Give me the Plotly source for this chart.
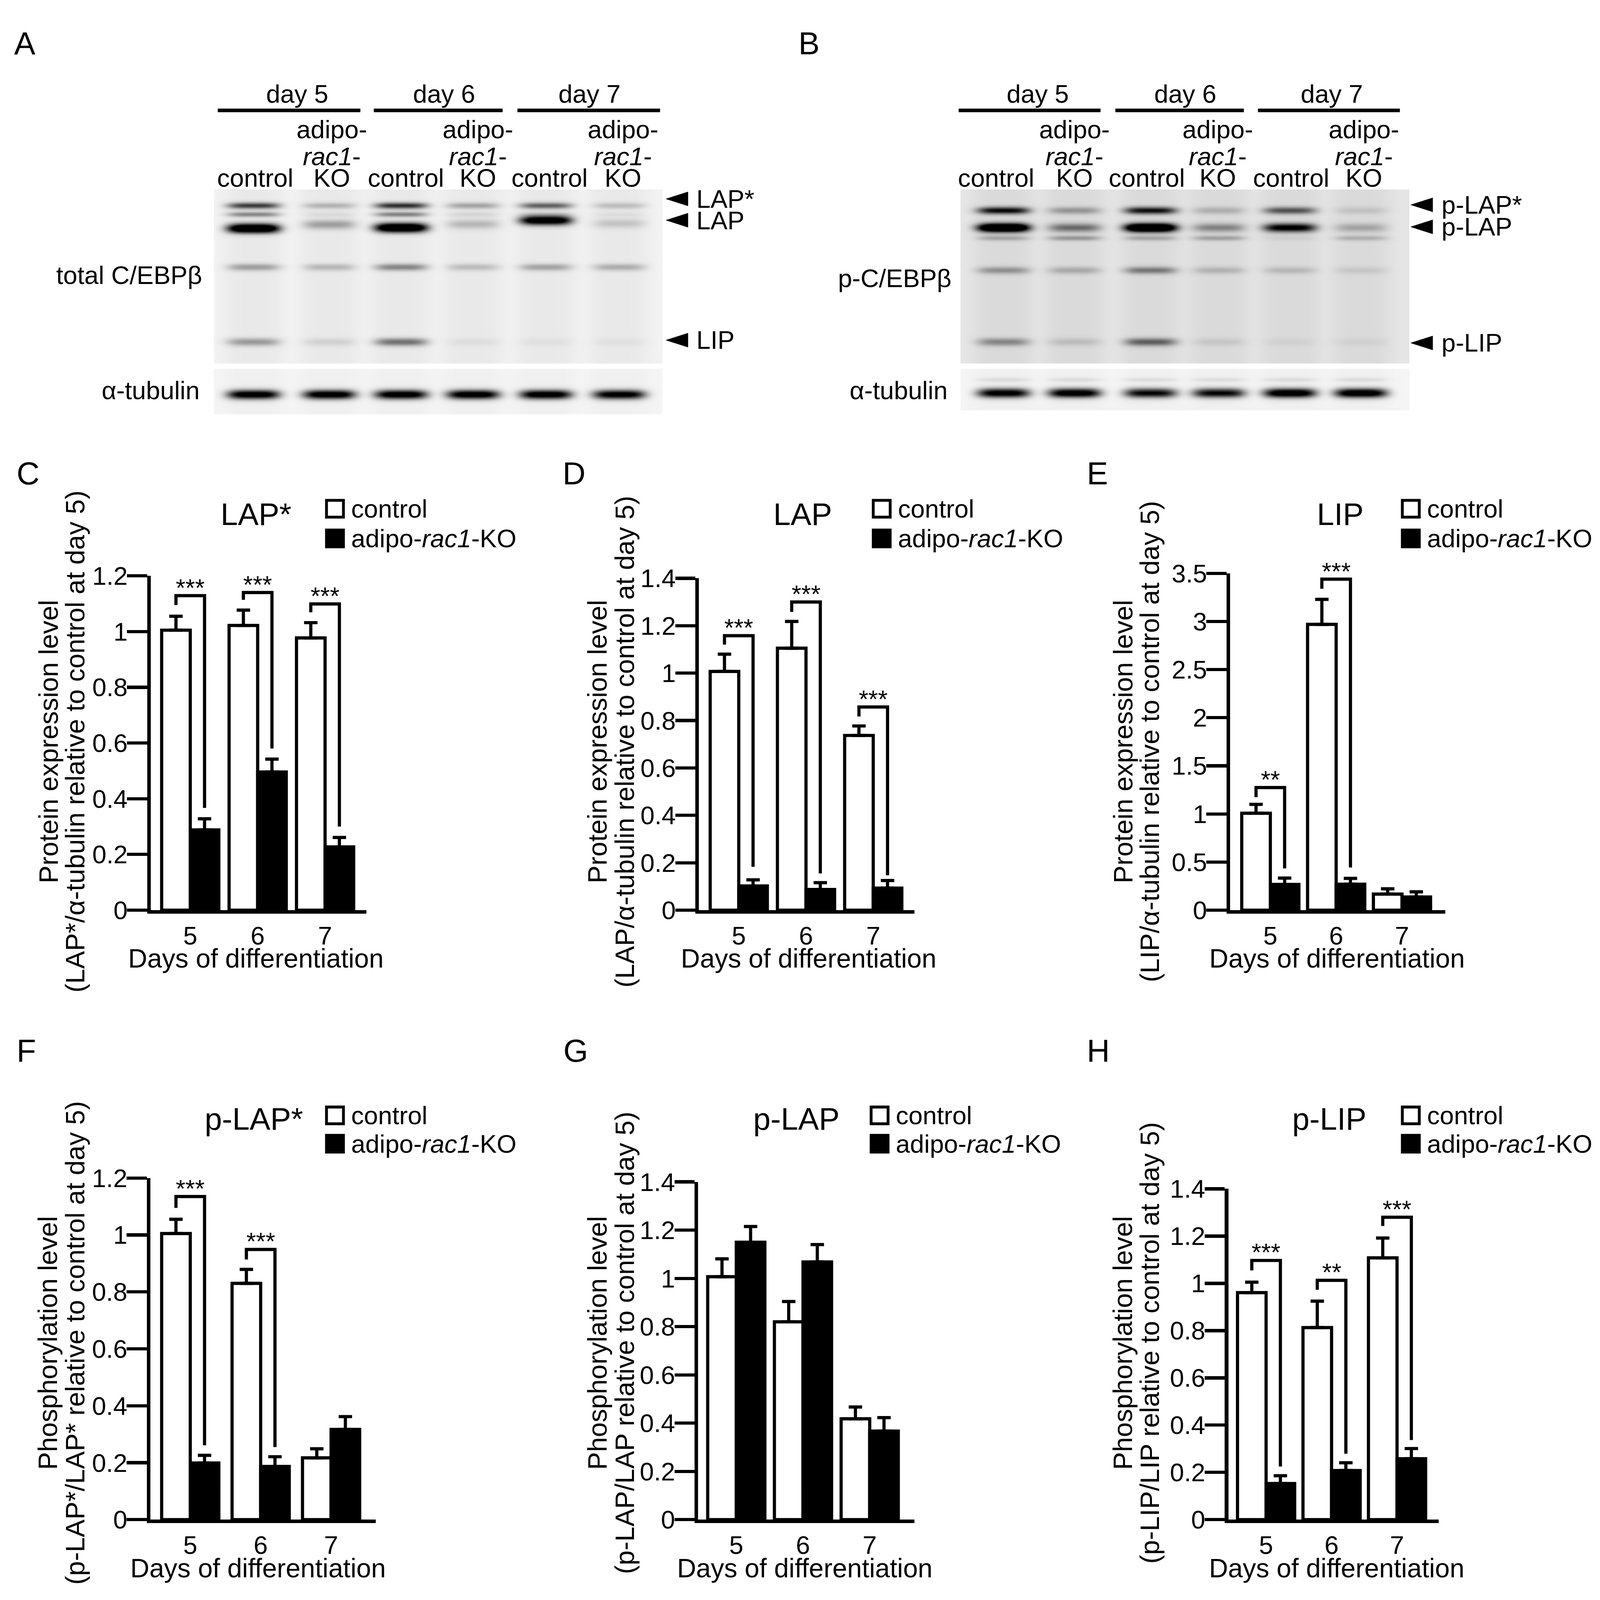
import numpy as np
import plotly.graph_objects as go

W, H = 4533, 4494
FONT = "Liberation Sans, Arial, Helvetica, sans-serif"

# ======================= DATA =======================
days = [5, 6, 7]
day_labels = ["5", "6", "7"]
legend_labels = ["control", "adipo-<i>rac1</i>-KO"]
x_title = "Days of differentiation"

# --- C: LAP* ---
c_title = "LAP*"
c_ytitle = ["Protein expression level", "(LAP*/α-tubulin relative to control at day 5)"]
c_ticks = [0, 0.2, 0.4, 0.6, 0.8, 1.0, 1.2]
c_ticktext = ["0", "0.2", "0.4", "0.6", "0.8", "1", "1.2"]
c_ctrl = [1.005, 1.022, 0.977]
c_ctrl_err = [0.050, 0.055, 0.055]
c_ko = [0.288, 0.496, 0.227]
c_ko_err = [0.040, 0.046, 0.034]
c_sig = ["***", "***", "***"]
c_br_top = [1.129, 1.140, 1.099]
c_br_left = [1.095, 1.114, 1.069]
c_br_right = [0.367, 0.580, 0.300]

# --- D: LAP ---
d_title = "LAP"
d_ytitle = ["Protein expression level", "(LAP/α-tubulin relative to control at day 5)"]
d_ticks = [0, 0.2, 0.4, 0.6, 0.8, 1.0, 1.2, 1.4]
d_ticktext = ["0", "0.2", "0.4", "0.6", "0.8", "1", "1.2", "1.4"]
d_ctrl = [1.007, 1.105, 0.737]
d_ctrl_err = [0.073, 0.113, 0.040]
d_ko = [0.102, 0.087, 0.093]
d_ko_err = [0.026, 0.029, 0.032]
d_sig = ["***", "***", "***"]
d_br_top = [1.158, 1.300, 0.857]
d_br_left = [1.120, 1.258, 0.817]
d_br_right = [0.183, 0.155, 0.147]

# --- E: LIP ---
e_title = "LIP"
e_ytitle = ["Protein expression level", "(LIP/α-tubulin relative to control at day 5)"]
e_ticks = [0, 0.5, 1.0, 1.5, 2.0, 2.5, 3.0, 3.5]
e_ticktext = ["0", "0.5", "1", "1.5", "2", "2.5", "3", "3.5"]
e_ctrl = [1.007, 2.970, 0.167]
e_ctrl_err = [0.093, 0.260, 0.055]
e_ko = [0.267, 0.270, 0.137]
e_ko_err = [0.066, 0.060, 0.053]
e_sig = ["**", "***", None]
e_br_top = [1.274, 3.440, None]
e_br_left = [1.174, 3.340, None]
e_br_right = [0.433, 0.444, None]

# --- F: p-LAP* ---
f_title = "p-LAP*"
f_ytitle = ["Phosphorylation level", "(p-LAP*/LAP* relative to control at day 5)"]
f_ticks = [0, 0.2, 0.4, 0.6, 0.8, 1.0, 1.2]
f_ticktext = ["0", "0.2", "0.4", "0.6", "0.8", "1", "1.2"]
f_ctrl = [1.005, 0.830, 0.217]
f_ctrl_err = [0.050, 0.049, 0.032]
f_ko = [0.199, 0.187, 0.317]
f_ko_err = [0.027, 0.034, 0.045]
f_sig = ["***", "***", None]
f_br_top = [1.135, 0.949, None]
f_br_left = [1.095, 0.914, None]
f_br_right = [0.261, 0.255, None]

# --- G: p-LAP ---
g_title = "p-LAP"
g_ytitle = ["Phosphorylation level", "(p-LAP/LAP relative to control at day 5)"]
g_ticks = [0, 0.2, 0.4, 0.6, 0.8, 1.0, 1.2, 1.4]
g_ticktext = ["0", "0.2", "0.4", "0.6", "0.8", "1", "1.2", "1.4"]
g_ctrl = [1.007, 0.820, 0.418]
g_ctrl_err = [0.074, 0.084, 0.049]
g_ko = [1.150, 1.068, 0.367]
g_ko_err = [0.065, 0.072, 0.056]
g_sig = [None, None, None]
g_br_top = [None, None, None]
g_br_left = [None, None, None]
g_br_right = [None, None, None]

# --- H: p-LIP ---
h_title = "p-LIP"
h_ytitle = ["Phosphorylation level", "(p-LIP/LIP relative to control at day 5)"]
h_ticks = [0, 0.2, 0.4, 0.6, 0.8, 1.0, 1.2, 1.4]
h_ticktext = ["0", "0.2", "0.4", "0.6", "0.8", "1", "1.2", "1.4"]
h_ctrl = [0.961, 0.813, 1.108]
h_ctrl_err = [0.044, 0.112, 0.084]
h_ko = [0.153, 0.208, 0.258]
h_ko_err = [0.033, 0.033, 0.043]
h_sig = ["***", "**", "***"]
h_br_top = [1.097, 1.013, 1.280]
h_br_left = [1.055, 0.973, 1.243]
h_br_right = [0.225, 0.279, 0.337]

# --- Western blots (relative band darkness per lane) ---
blot_days = ["day 5", "day 6", "day 7"]
lane_groups = ["control", "KO"]
a_label = "total C/EBPβ"
b_label = "p-C/EBPβ"
tub_label = "α-tubulin"
a_markers = ["LAP*", "LAP", "LIP"]
b_markers = ["p-LAP*", "p-LAP", "p-LIP"]
a_int = [
    [0.70, 0.22, 0.75, 0.28, 0.55, 0.18],   # LAP*
    [0.40, 0.06, 0.42, 0.08, 0.10, 0.05],   # faint band under LAP*
    [1.40, 0.30, 1.40, 0.20, 1.20, 0.15],   # LAP
    [0.30, 0.20, 0.40, 0.18, 0.28, 0.24],   # middle band
    [0.32, 0.10, 0.48, 0.05, 0.04, 0.04],   # LIP
]
a_tub = [1.10, 1.10, 1.10, 1.10, 1.10, 1.05]
b_int = [
    [0.85, 0.28, 0.82, 0.18, 0.55, 0.10],   # p-LAP*
    [1.50, 0.45, 1.50, 0.35, 0.95, 0.22],   # p-LAP
    [0.22, 0.28, 0.22, 0.24, 0.05, 0.18],   # minor band
    [0.30, 0.20, 0.40, 0.16, 0.14, 0.08],   # middle band
    [0.34, 0.12, 0.50, 0.08, 0.04, 0.04],   # p-LIP
]
b_tub = [1.05, 1.10, 0.95, 0.95, 1.15, 1.15]

# ======================= HELPERS =======================
def px(x):
    return x / W


def py(y):
    return 1 - y / H


fig = go.Figure()
annotations = []
shapes = []
layout_axes = {}


def txt(x, y, text, size=72, xanchor="center", yanchor="middle", angle=0):
    annotations.append(dict(x=px(x), y=py(y), xref="paper", yref="paper", text=text,
                            showarrow=False, xanchor=xanchor, yanchor=yanchor,
                            textangle=angle,
                            font=dict(size=size, family=FONT, color="black")))


# ======================= BAR PANELS =======================
panels = [
    dict(letter="C", title=c_title, yt=c_ytitle, ticks=c_ticks, tt=c_ticktext, ymax=1.2,
         ctrl=c_ctrl, ce=c_ctrl_err, ko=c_ko, ke=c_ko_err, sig=c_sig, bt=c_br_top, bl=c_br_left, br=c_br_right,
         g=dict(left=427, right=1038, top=1606, bottom=2562, c0=539, sp=191, lx=79, ly=1312,
                tx=725, ty=1430, legx=921, legy=(1414, 1499), ytx=(138, 213), yty=2080, xtx=725)),
    dict(letter="D", title=d_title, yt=d_ytitle, ticks=d_ticks, tt=d_ticktext, ymax=1.4,
         ctrl=d_ctrl, ce=d_ctrl_err, ko=d_ko, ke=d_ko_err, sig=d_sig, bt=d_br_top, bl=d_br_left, br=d_br_right,
         g=dict(left=1980, right=2591, top=1613, bottom=2562, c0=2093, sp=190.5, lx=1627, ly=1312,
                tx=2274, ty=1430, legx=2470, legy=(1414, 1499), ytx=(1693, 1770), yty=2080, xtx=2291)),
    dict(letter="E", title=e_title, yt=e_ytitle, ticks=e_ticks, tt=e_ticktext, ymax=3.5,
         ctrl=e_ctrl, ce=e_ctrl_err, ko=e_ko, ke=e_ko_err, sig=e_sig, bt=e_br_top, bl=e_br_left, br=e_br_right,
         g=dict(left=3485, right=4095, top=1599, bottom=2562, c0=3599, sp=186.5, lx=3109, ly=1312,
                tx=3797, ty=1430, legx=3969, legy=(1414, 1499), ytx=(3182, 3258), yty=2080, xtx=3788)),
    dict(letter="F", title=f_title, yt=f_ytitle, ticks=f_ticks, tt=f_ticktext, ymax=1.2,
         ctrl=f_ctrl, ce=f_ctrl_err, ko=f_ko, ke=f_ko_err, sig=f_sig, bt=f_br_top, bl=f_br_left, br=f_br_right,
         g=dict(left=426, right=1065, top=3328, bottom=4305, c0=539, sp=199.5, lx=74, ly=2964,
                tx=719, ty=3159, legx=921, legy=(3149, 3230), ytx=(136, 213), yty=3800, xtx=731)),
    dict(letter="G", title=g_title, yt=g_ytitle, ticks=g_ticks, tt=g_ticktext, ymax=1.4,
         ctrl=g_ctrl, ce=g_ctrl_err, ko=g_ko, ke=g_ko_err, sig=g_sig, bt=g_br_top, bl=g_br_left, br=g_br_right,
         g=dict(left=1978, right=2591, top=3339, bottom=4305, c0=2086, sp=189, lx=1631, ly=2964,
                tx=2256, ty=3159, legx=2464, legy=(3149, 3230), ytx=(1693, 1770), yty=3800, xtx=2280)),
    dict(letter="H", title=h_title, yt=h_ytitle, ticks=h_ticks, tt=h_ticktext, ymax=1.4,
         ctrl=h_ctrl, ce=h_ctrl_err, ko=h_ko, ke=h_ko_err, sig=h_sig, bt=h_br_top, bl=h_br_left, br=h_br_right,
         g=dict(left=3480, right=4076, top=3359, bottom=4305, c0=3587, sp=185.5, lx=3111, ly=2964,
                tx=3766, ty=3159, legx=3969, legy=(3149, 3230), ytx=(3182, 3258), yty=3800, xtx=3787)),
]

LW = 9
for i, p in enumerate(panels, start=1):
    g = p["g"]
    suf = "" if i == 1 else str(i)
    xa, ya = "x" + suf, "y" + suf
    w = 81.0 / g["sp"]
    x0 = days[0] - (g["c0"] - g["left"]) / g["sp"]
    x1 = days[0] + (g["right"] - g["c0"]) / g["sp"]

    fig.add_trace(go.Bar(x=days, y=p["ctrl"], width=w, offset=-w,
                         marker=dict(color="white", line=dict(color="black", width=LW)),
                         error_y=dict(type="data", array=p["ce"], arrayminus=[0, 0, 0], symmetric=False,
                                      color="black", thickness=LW, width=19),
                         xaxis=xa, yaxis=ya, showlegend=False, hoverinfo="skip"))
    fig.add_trace(go.Bar(x=days, y=p["ko"], width=w, offset=0,
                         marker=dict(color="black", line=dict(color="black", width=LW)),
                         error_y=dict(type="data", array=p["ke"], arrayminus=[0, 0, 0], symmetric=False,
                                      color="black", thickness=LW, width=19),
                         xaxis=xa, yaxis=ya, showlegend=False, hoverinfo="skip"))

    for d, s, t, l, r in zip(days, p["sig"], p["bt"], p["bl"], p["br"]):
        if s is None:
            continue
        xl, xr = d - w / 2, d + w / 2
        fig.add_trace(go.Scatter(x=[xl, xl, xr, xr], y=[l, t, t, r], mode="lines",
                                 line=dict(color="black", width=LW), xaxis=xa, yaxis=ya,
                                 showlegend=False, hoverinfo="skip", cliponaxis=False))
        annotations.append(dict(x=d, y=t, xref=xa, yref=ya, text=s, showarrow=False,
                                xanchor="center", yanchor="bottom", yshift=-18,
                                font=dict(size=70, family=FONT, color="black")))

    layout_axes["xaxis" + suf] = dict(
        domain=[px(g["left"]), px(g["right"])], range=[x0, x1], anchor=ya,
        tickvals=days, ticktext=day_labels, ticks="",
        showline=True, linewidth=10, linecolor="black",
        showgrid=False, zeroline=False, fixedrange=True,
        tickfont=dict(size=72, family=FONT, color="black"))
    layout_axes["yaxis" + suf] = dict(
        domain=[py(g["bottom"]), py(g["top"])], range=[0, p["ymax"]], anchor=xa,
        tickvals=p["ticks"], ticktext=p["tt"], ticks="outside", ticklen=57, tickwidth=LW,
        tickcolor="black", showline=True, linewidth=10, linecolor="black",
        showgrid=False, zeroline=False, fixedrange=True, ticklabelstandoff=-16,
        tickfont=dict(size=72, family=FONT, color="black"))

    txt(g["lx"], g["ly"], p["letter"], size=90)
    txt(g["tx"], g["ty"], p["title"], size=88)
    for k, (lab, fill) in enumerate(zip(legend_labels, ["white", "black"])):
        yc = g["legy"][k]
        shapes.append(dict(type="rect", xref="paper", yref="paper",
                           x0=px(g["legx"] + 4), x1=px(g["legx"] + 52),
                           y0=py(yc + 24), y1=py(yc - 24),
                           line=dict(color="black", width=8), fillcolor=fill))
        txt(g["legx"] + 72, yc, lab, size=72, xanchor="left")
    txt(g["ytx"][0], g["yty"], p["yt"][0], size=75, angle=-90)
    txt(g["ytx"][1], g["yty"], p["yt"][1], size=75, angle=-90)
    txt(g["xtx"], g["bottom"] + 138, x_title, size=75)

# ======================= BLOTS =======================
def blot_z(xs, ys, lanes, rows_y, rows_sig, rows_int, base, lane_bg, halfw=74):
    X, Y = np.meshgrid(xs, ys)
    z = np.full(X.shape, base, dtype=float)
    for lx in lanes:
        z += lane_bg * np.exp(-((X - lx) / (halfw + 12)) ** 4)
    for ry, rs, ri in zip(rows_y, rows_sig, rows_int):
        for lx, yy, a in zip(lanes, ry, ri):
            z += a * np.exp(-((X - lx) / halfw) ** 4) * np.exp(-((Y - yy) / rs) ** 2)
    return np.clip(z, 0, 1)


gray = [[0, "rgb(255,255,255)"], [1, "rgb(0,0,0)"]]

blots = [
    dict(x=(606, 1877), y=(501, 999),
         lanes=[718, 933, 1136, 1340, 1546, 1754],
         rows_y=[[547] * 6, [572] * 6, [612, 601, 610, 600, 589, 598], [723] * 6, [937] * 6],
         rows_sig=[9, 7, 13, 10, 11], ints=a_int, base=0.05, lane_bg=0.035),
    dict(x=(606, 1877), y=(1014, 1144),
         lanes=[718, 933, 1136, 1340, 1546, 1754],
         rows_y=[[1087] * 6], rows_sig=[13], ints=[a_tub], base=0.04, lane_bg=0.02),
    dict(x=(2721, 3993), y=(501, 999),
         lanes=[2843, 3044, 3259, 3453, 3654, 3855],
         rows_y=[[561] * 6, [610] * 6, [640] * 6, [732] * 6, [937] * 6],
         rows_sig=[10, 12, 7, 10, 11], ints=b_int, base=0.10, lane_bg=0.045),
    dict(x=(2721, 3993), y=(1014, 1133),
         lanes=[2843, 3044, 3259, 3453, 3654, 3855],
         rows_y=[[1083] * 6, [1045] * 6], rows_sig=[13, 6], ints=[b_tub, [0.08] * 6],
         base=0.04, lane_bg=0.02),
]

for j, b in enumerate(blots, start=len(panels) + 1):
    suf = str(j)
    xs = np.linspace(b["x"][0], b["x"][1], 320)
    ys = np.linspace(b["y"][0], b["y"][1], max(40, int((b["y"][1] - b["y"][0]) / 2.5)))
    z = blot_z(xs, ys, b["lanes"], b["rows_y"], b["rows_sig"], b["ints"], b["base"], b["lane_bg"])
    fig.add_trace(go.Heatmap(x=xs, y=ys, z=z, colorscale=gray, zmin=0, zmax=1, showscale=False,
                             zsmooth="best", hoverinfo="skip", xaxis="x" + suf, yaxis="y" + suf))
    layout_axes["xaxis" + suf] = dict(domain=[px(b["x"][0]), px(b["x"][1])], range=list(b["x"]),
                                      anchor="y" + suf, visible=False, fixedrange=True)
    layout_axes["yaxis" + suf] = dict(domain=[py(b["y"][1]), py(b["y"][0])],
                                      range=[b["y"][1], b["y"][0]], anchor="x" + suf,
                                      visible=False, fixedrange=True)

blot_text = [
    dict(letter="A", lx=70, day_x=[842, 1258, 1670], lines=[(617, 1021), (1059, 1424), (1466, 1870)],
         ctrl_x=[723, 1150, 1557], ko_x=[940, 1354, 1765], label=a_label, label_x=575, label_y=746,
         tub_x=568, markers=a_markers, mk_y=[528, 589, 932], tri_x=1887, mk_x=1971),
    dict(letter="B", lx=2292, day_x=[2940, 3358, 3773], lines=[(2716, 3118), (3160, 3524), (3564, 3966)],
         ctrl_x=[2822, 3249, 3658], ko_x=[3044, 3450, 3864], label=b_label, label_x=2698, label_y=754,
         tub_x=2687, markers=b_markers, mk_y=[545, 608, 940], tri_x=3997, mk_x=4082),
]
for bt in blot_text:
    txt(bt["lx"], 82, bt["letter"], size=90)
    for dx, dl, (l0, l1) in zip(bt["day_x"], blot_days, bt["lines"]):
        txt(dx, 228, dl, size=72)
        shapes.append(dict(type="line", xref="paper", yref="paper", x0=px(l0), x1=px(l1),
                           y0=py(275), y1=py(275), line=dict(color="black", width=10)))
    for cx in bt["ctrl_x"]:
        txt(cx, 468, lane_groups[0], size=72)
    for kx in bt["ko_x"]:
        txt(kx, 329, "adipo-", size=72)
        txt(kx, 406, "<i>rac1</i>-", size=72)
        txt(kx, 468, lane_groups[1], size=72)
    txt(bt["label_x"], bt["label_y"], bt["label"], size=72, xanchor="right")
    txt(bt["tub_x"], 1075, tub_label, size=72, xanchor="right")
    for m, my in zip(bt["markers"], bt["mk_y"]):
        t0 = bt["tri_x"]
        path = "M {:.6f},{:.6f} L {:.6f},{:.6f} L {:.6f},{:.6f} Z".format(
            px(t0), py(my), px(t0 + 62), py(my - 20), px(t0 + 62), py(my + 20))
        shapes.append(dict(type="path", xref="paper", yref="paper", path=path,
                           fillcolor="black", line=dict(color="black", width=1)))
        txt(bt["mk_x"], my, m, size=72, xanchor="left")

fig.update_layout(
    width=W, height=H, margin=dict(l=0, r=0, t=0, b=0, pad=0),
    paper_bgcolor="white", plot_bgcolor="white",
    barmode="overlay", showlegend=False,
    font=dict(family=FONT, color="black"),
    annotations=annotations, shapes=shapes,
    **layout_axes,
)

fit_js = """
document.documentElement.style.margin = '0px';
document.body.style.margin = '0px';
document.body.style.padding = '0px';
document.body.style.overflow = 'hidden';
var gd = document.getElementById('{plot_id}');
var fx = window.innerWidth / %d, fy = window.innerHeight / %d;
gd.style.position = 'absolute';
gd.style.left = '0px';
gd.style.top = '0px';
gd.style.transformOrigin = '0 0';
gd.style.transform = 'scale(' + fx + ',' + fy + ')';
""" % (W, H)

fig.write_html("out.html", config={"displayModeBar": False, "staticPlot": True},
               post_script=fit_js)
